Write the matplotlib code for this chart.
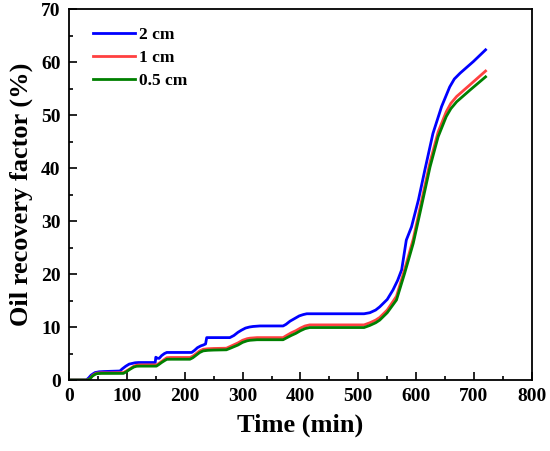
import matplotlib
matplotlib.use("Agg")
import matplotlib.pyplot as plt
from matplotlib.ticker import MultipleLocator

t_2cm = [0, 30, 34, 38, 42, 45, 52, 60, 88, 92, 98, 104, 108, 114, 120, 149, 150, 153, 156, 160, 165, 169, 190, 212, 217, 222, 228, 232, 236, 238, 260, 278, 285, 292, 298, 305, 312, 318, 330, 340, 370, 375, 382, 390, 398, 405, 411, 420, 450, 510, 520, 530, 537, 550, 560, 568, 575, 583, 592, 604, 615, 629, 644, 658, 666, 676, 699, 720]
v_2cm = [0, 0, 0.4, 0.9, 1.2, 1.4, 1.55, 1.6, 1.7, 2.1, 2.6, 3.0, 3.1, 3.25, 3.3, 3.3, 4.3, 4.1, 4.1, 4.6, 5.0, 5.2, 5.2, 5.2, 5.6, 6.1, 6.45, 6.6, 6.8, 8.0, 8.0, 8.0, 8.4, 9.0, 9.4, 9.8, 10.0, 10.1, 10.2, 10.2, 10.2, 10.5, 11.1, 11.6, 12.1, 12.35, 12.5, 12.5, 12.5, 12.5, 12.7, 13.2, 13.8, 15.2, 17.0, 18.8, 20.8, 26.4, 28.9, 34.0, 39.6, 46.5, 51.6, 55.3, 56.8, 57.9, 60.1, 62.3]

t_1cm = [0, 33, 37, 40, 44, 48, 56, 70, 94, 99, 105, 112, 117, 124, 135, 151, 155, 160, 165, 169, 176, 190, 209, 214, 220, 226, 232, 240, 250, 272, 280, 292, 300, 308, 313, 325, 340, 370, 376, 384, 392, 400, 408, 416, 430, 460, 510, 520, 530, 537, 550, 566, 580, 595, 609, 624, 638, 652, 660, 670, 693, 720]
v_1cm = [0, 0, 0.35, 0.8, 1.1, 1.3, 1.35, 1.35, 1.4, 1.7, 2.1, 2.6, 2.8, 2.85, 2.85, 2.85, 3.1, 3.5, 3.9, 4.2, 4.25, 4.25, 4.25, 4.5, 5.0, 5.5, 5.8, 5.9, 5.95, 6.0, 6.4, 7.0, 7.5, 7.8, 7.9, 8.0, 8.0, 8.0, 8.4, 8.9, 9.3, 9.8, 10.2, 10.4, 10.4, 10.4, 10.4, 10.8, 11.3, 11.8, 13.2, 15.8, 20.8, 26.6, 33.6, 41.1, 46.8, 50.6, 52.2, 53.5, 55.7, 58.3]

t_05cm = [0, 33, 37, 40, 44, 48, 56, 70, 94, 99, 105, 112, 117, 124, 135, 151, 155, 160, 165, 169, 176, 190, 209, 214, 220, 226, 232, 240, 250, 272, 280, 292, 300, 308, 313, 325, 340, 370, 376, 384, 392, 400, 408, 416, 430, 460, 510, 520, 530, 537, 550, 566, 580, 595, 609, 624, 638, 652, 660, 670, 693, 720]
v_05cm = [0, 0, 0.3, 0.7, 1.0, 1.2, 1.25, 1.25, 1.25, 1.55, 2.0, 2.45, 2.6, 2.62, 2.62, 2.62, 2.9, 3.3, 3.65, 3.9, 3.92, 3.92, 3.92, 4.2, 4.7, 5.2, 5.5, 5.6, 5.65, 5.7, 6.05, 6.6, 7.1, 7.4, 7.5, 7.6, 7.6, 7.6, 7.95, 8.4, 8.8, 9.3, 9.7, 9.9, 9.9, 9.9, 9.9, 10.3, 10.8, 11.3, 12.7, 15.1, 20.1, 25.8, 32.7, 40.2, 45.9, 49.7, 51.2, 52.5, 54.7, 57.2]

labels = ["2 cm", "1 cm", "0.5 cm"]
colors = ["#0000ff", "#ff4040", "#008000"]

plt.rcParams['font.family'] = ['Liberation Serif', 'DejaVu Serif']
plt.rcParams['font.weight'] = 'bold'

fig = plt.figure(figsize=(5.5, 4.51), dpi=100)
ax = fig.add_axes([0.1255, 0.1574, 0.8415, 0.8226])

for t, v, lab, c in zip([t_2cm, t_1cm, t_05cm], [v_2cm, v_1cm, v_05cm], labels, colors):
    ax.plot(t, v, color=c, lw=2, label=lab, solid_joinstyle='round')

ax.set_xlim(0, 800)
ax.set_ylim(0, 70)
ax.xaxis.set_major_locator(MultipleLocator(100))
ax.xaxis.set_minor_locator(MultipleLocator(50))
ax.yaxis.set_major_locator(MultipleLocator(10))
ax.yaxis.set_minor_locator(MultipleLocator(5))
ax.tick_params(which='both', direction='in', top=False, right=False, width=1.2)
ax.tick_params(which='major', length=6, labelsize=14, pad=6)
ax.tick_params(which='minor', length=3)
for s in ax.spines.values():
    s.set_linewidth(1.3)
for lbl in ax.get_xticklabels() + ax.get_yticklabels():
    lbl.set_fontweight('bold')

ax.set_xlabel("Time (min)", fontsize=19, fontweight='bold', labelpad=6)
ax.set_ylabel("Oil recovery factor (%)", fontsize=19, fontweight='bold', labelpad=6)

leg = ax.legend(loc='upper left', bbox_to_anchor=(0.0, 1.017), frameon=False, handlelength=2.4,
                handletextpad=0.25, labelspacing=0.4, borderaxespad=1.0,
                prop={'weight': 'bold', 'size': 12.5})

fig.savefig("out.png", dpi=100)
